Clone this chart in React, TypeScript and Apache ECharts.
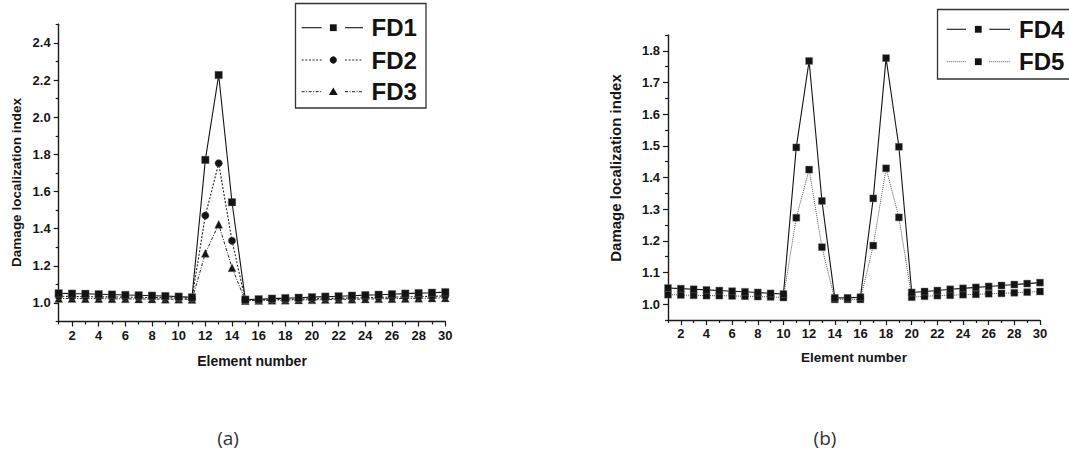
import React, { useEffect, useRef } from "react";
import * as echarts from "echarts";

// ---------- data ----------
const elements = [1, 2, 3, 4, 5, 6, 7, 8, 9, 10, 11, 12, 13, 14, 15, 16, 17, 18, 19, 20, 21, 22, 23, 24, 25, 26, 27, 28, 29, 30];

const FD1 = [1.052, 1.050, 1.049, 1.047, 1.045, 1.043, 1.041, 1.039, 1.037, 1.034, 1.030, 1.77, 2.227, 1.542, 1.018, 1.020, 1.023, 1.026, 1.028, 1.031, 1.034, 1.036, 1.039, 1.042, 1.044, 1.047, 1.050, 1.053, 1.055, 1.058];
const FD2 = [1.036, 1.035, 1.034, 1.033, 1.032, 1.031, 1.030, 1.029, 1.028, 1.027, 1.025, 1.47, 1.752, 1.335, 1.015, 1.016, 1.018, 1.019, 1.021, 1.022, 1.024, 1.025, 1.027, 1.028, 1.030, 1.031, 1.033, 1.034, 1.036, 1.037];
const FD3 = [1.024, 1.024, 1.023, 1.023, 1.022, 1.022, 1.021, 1.021, 1.020, 1.020, 1.019, 1.267, 1.423, 1.19, 1.012, 1.013, 1.014, 1.015, 1.016, 1.017, 1.018, 1.019, 1.020, 1.021, 1.022, 1.023, 1.024, 1.025, 1.026, 1.027];

const FD4 = [1.051, 1.049, 1.047, 1.045, 1.043, 1.041, 1.039, 1.037, 1.034, 1.032, 1.495, 1.768, 1.326, 1.02, 1.02, 1.022, 1.334, 1.777, 1.497, 1.037, 1.040, 1.043, 1.047, 1.050, 1.053, 1.056, 1.059, 1.062, 1.065, 1.068];
const FD5 = [1.030, 1.029, 1.028, 1.027, 1.027, 1.026, 1.025, 1.024, 1.023, 1.021, 1.273, 1.425, 1.18, 1.015, 1.015, 1.015, 1.185, 1.429, 1.274, 1.022, 1.025, 1.027, 1.028, 1.030, 1.031, 1.033, 1.034, 1.036, 1.038, 1.040];

const xMajorTicks = [2, 4, 6, 8, 10, 12, 14, 16, 18, 20, 22, 24, 26, 28, 30];
const xMinorTicks = [1, 3, 5, 7, 9, 11, 13, 15, 17, 19, 21, 23, 25, 27, 29];
const yMajorA = [1.0, 1.2, 1.4, 1.6, 1.8, 2.0, 2.2, 2.4];
const yMinorA = [0.9, 1.1, 1.3, 1.5, 1.7, 1.9, 2.1, 2.3, 2.5];
const yMajorB = [1.0, 1.1, 1.2, 1.3, 1.4, 1.5, 1.6, 1.7, 1.8];
const yMinorB = [0.95, 1.05, 1.15, 1.25, 1.35, 1.45, 1.55, 1.65, 1.75, 1.85];

const legendA = ["FD1", "FD2", "FD3"];
const legendB = ["FD4", "FD5"];
const xName = "Element number";
const yName = "Damage localization index";

// ---------- styles ----------
const FONT = "Liberation Sans, Arial, sans-serif";
const AX = "#1a1a1a";
const INK = "#131313";
const TXT = "#161616";

const pairs = (ys: number[]) => ys.map((y, i) => [elements[i], y]);

function makeXAxes(gridIndex: number) {
  const labelStyle = {
    fontFamily: FONT,
    fontWeight: "bold",
    fontSize: 13,
    color: TXT,
    margin: 7,
  };
  return [
    {
      type: "value",
      gridIndex,
      position: "bottom",
      min: 1,
      max: 30,
      axisLine: { show: true, onZero: false, lineStyle: { color: AX, width: 1.4 } },
      axisTick: { show: true, customValues: xMajorTicks, length: 5, inside: false, lineStyle: { color: AX, width: 1.2 } },
      axisLabel: { ...labelStyle, customValues: xMajorTicks, formatter: (v: number) => String(v) },
      splitLine: { show: false },
    },
    {
      type: "value",
      gridIndex,
      position: "bottom",
      min: 1,
      max: 30,
      axisLine: { show: false, onZero: false },
      axisTick: { show: true, customValues: xMinorTicks, length: 3, lineStyle: { color: AX, width: 1.2 } },
      axisLabel: { show: false },
      splitLine: { show: false },
    },
  ];
}

function makeYAxes(gridIndex: number, min: number, max: number, major: number[], minor: number[]) {
  return [
    {
      type: "value",
      gridIndex,
      position: "left",
      min,
      max,
      axisLine: { show: true, onZero: false, lineStyle: { color: AX, width: 1.4 } },
      axisTick: { show: true, customValues: major, length: 5, lineStyle: { color: AX, width: 1.2 } },
      axisLabel: {
        customValues: major,
        formatter: (v: number) => v.toFixed(1),
        fontFamily: FONT,
        fontWeight: "bold",
        fontSize: 13,
        color: TXT,
        margin: 8,
      },
      splitLine: { show: false },
    },
    {
      type: "value",
      gridIndex,
      position: "left",
      offset: 0,
      min,
      max,
      axisLine: { show: false, onZero: false },
      axisTick: { show: true, customValues: minor, length: 3, lineStyle: { color: AX, width: 1.2 } },
      axisLabel: { show: false },
      splitLine: { show: false },
    },
  ];
}

function lineSeries(name: string, data: number[], xi: number, yi: number, symbol: string, size: number, lineStyle: any) {
  return {
    name,
    type: "line",
    xAxisIndex: xi,
    yAxisIndex: yi,
    data: pairs(data),
    symbol,
    symbolSize: size,
    showSymbol: true,
    itemStyle: { color: INK, borderColor: "#777", borderWidth: 0.4 },
    lineStyle,
    emphasis: { disabled: true },
    z: 3,
  };
}

// legend drawing helpers (graphic)
function legendRow(
  x1: number, x2: number, sx: number, x3: number, x4: number, y: number,
  dash: any, stroke: string, lw: number, symbol: string, textX: number, label: string
) {
  const Z = 20;
  const els: any[] = [
    { type: "line", z: Z, shape: { x1, y1: y, x2, y2: y }, style: { stroke, lineWidth: lw, lineDash: dash } },
    { type: "line", z: Z, shape: { x1: x3, y1: y, x2: x4, y2: y }, style: { stroke, lineWidth: lw, lineDash: dash } },
  ];
  if (symbol === "rect") {
    els.push({ type: "rect", z: Z, shape: { x: sx - 3.4, y: y - 3.4, width: 6.8, height: 6.8 }, style: { fill: INK } });
  } else if (symbol === "circle") {
    els.push({ type: "circle", z: Z, shape: { cx: sx, cy: y, r: 3.6 }, style: { fill: INK } });
  } else {
    els.push({ type: "polygon", z: Z, shape: { points: [[sx, y - 4.2], [sx + 4.4, y + 3.4], [sx - 4.4, y + 3.4]] }, style: { fill: INK } });
  }
  els.push({
    type: "text",
    z: Z,
    x: textX,
    y,
    style: { text: label, fontFamily: FONT, fontWeight: "bold", fontSize: 24, fill: INK, align: "left", verticalAlign: "middle" },
  });
  return els;
}

export default function App() {
  const ref = useRef<HTMLDivElement>(null);

  useEffect(() => {
    document.body.style.margin = "0";
    if (!ref.current) return;
    const chart = echarts.init(ref.current, undefined, { renderer: "svg" });

    const graphics: any[] = [
      // legend box (a)
      { type: "rect", z: 10, shape: { x: 295.5, y: 3.5, width: 130.5, height: 104.5 }, style: { fill: "#fff", stroke: "#333", lineWidth: 1.3 } },
      // legend box (b)
      { type: "rect", z: 10, shape: { x: 937.5, y: 9.5, width: 140, height: 69.5 }, style: { fill: "#fff", stroke: "#333", lineWidth: 1.3 } },
      ...legendRow(301.7, 321.7, 333.3, 345, 363, 27.7, null, INK, 1.1, "rect", 371.5, legendA[0]),
      ...legendRow(301.7, 321.7, 333.3, 345, 363, 60, [2, 1.6], "#222", 1.1, "circle", 371.5, legendA[1]),
      ...legendRow(301.7, 321.7, 333.3, 345, 363, 91.7, [3, 1.5, 1, 1.5], "#222", 1.0, "triangle", 371.5, legendA[2]),
      ...legendRow(946.7, 966, 978.3, 989.3, 1010, 29.3, null, INK, 1.1, "rect", 1019, legendB[0]),
      ...legendRow(946.7, 966, 978.3, 989.3, 1010, 61.7, [1, 1], "#555", 1.0, "rect", 1019, legendB[1]),
      // axis names
      { type: "text", x: 252, y: 361, style: { text: xName, fontFamily: FONT, fontWeight: "bold", fontSize: 14, fill: TXT, align: "center", verticalAlign: "middle" } },
      { type: "text", x: 854, y: 357, style: { text: xName, fontFamily: FONT, fontWeight: "bold", fontSize: 13.5, fill: TXT, align: "center", verticalAlign: "middle" } },
      { type: "text", x: 16.5, y: 182.5, rotation: Math.PI / 2, style: { text: yName, fontFamily: FONT, fontWeight: "bold", fontSize: 13.5, fill: TXT, align: "center", verticalAlign: "middle" } },
      { type: "text", x: 615, y: 168, rotation: Math.PI / 2, style: { text: yName, fontFamily: FONT, fontWeight: "bold", fontSize: 15, fill: TXT, align: "center", verticalAlign: "middle" } },
      // captions
      { type: "text", x: 228, y: 438, style: { text: "(a)", fontFamily: "Open Sans, Noto Sans, sans-serif", fontSize: 19, fill: "#333", align: "center", verticalAlign: "middle" } },
      { type: "text", x: 825, y: 438, style: { text: "(b)", fontFamily: "Open Sans, Noto Sans, sans-serif", fontSize: 19, fill: "#333", align: "center", verticalAlign: "middle" } },
    ];

    chart.setOption({
      animation: false,
      backgroundColor: "#ffffff",
      grid: [
        { left: 58.7, top: 24.3, width: 386.6, height: 297.2, containLabel: false },
        { left: 668, top: 35, width: 372, height: 285, containLabel: false },
      ],
      xAxis: [...makeXAxes(0), ...makeXAxes(1)],
      yAxis: [
        ...makeYAxes(0, 0.9, 2.5, yMajorA, yMinorA),
        ...makeYAxes(1, 0.95, 1.85, yMajorB, yMinorB),
      ],
      series: [
        lineSeries("FD3", FD3, 0, 0, "triangle", 8, { color: "#222", width: 1.0, type: [3, 1.5, 1, 1.5] }),
        lineSeries("FD2", FD2, 0, 0, "circle", 7.5, { color: "#222", width: 1.1, type: [2, 1.6] }),
        lineSeries("FD1", FD1, 0, 0, "rect", 7.5, { color: INK, width: 1.1, type: "solid" }),
        lineSeries("FD5", FD5, 2, 2, "rect", 7, { color: "#555", width: 1.0, type: [1, 1] }),
        lineSeries("FD4", FD4, 2, 2, "rect", 7, { color: INK, width: 1.1, type: "solid" }),
      ],
      graphic: graphics,
    });

    return () => chart.dispose();
  }, []);

  return <div ref={ref} style={{ width: 1069, height: 463 }} />;
}
